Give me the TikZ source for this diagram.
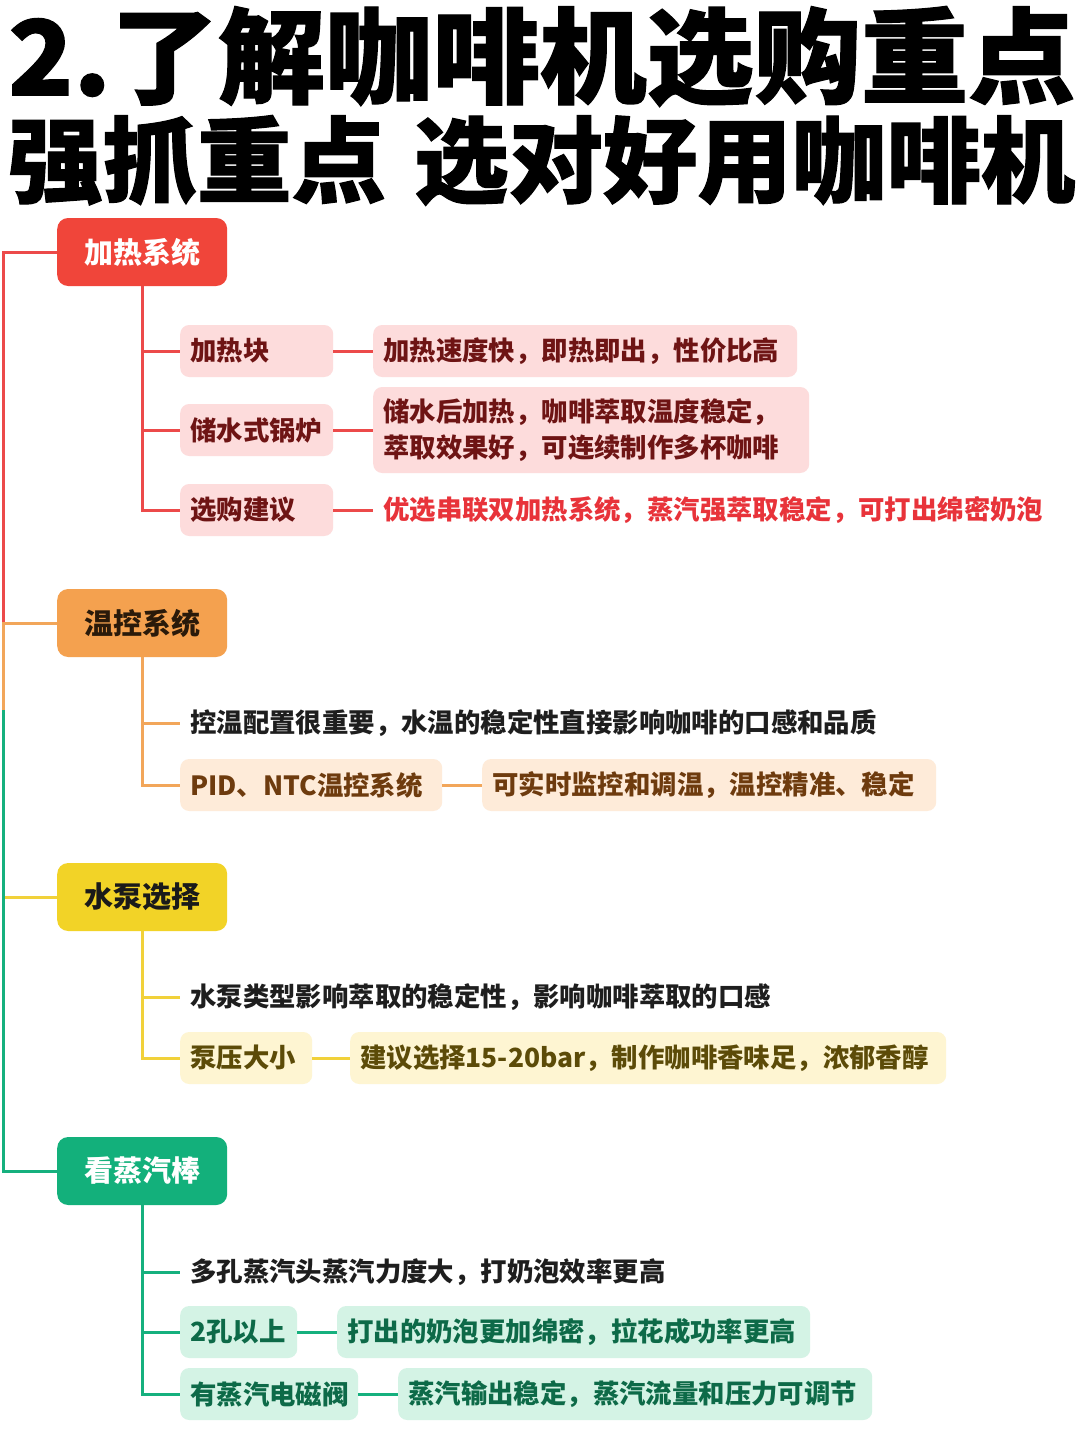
\documentclass[tikz,border=0pt]{standalone}
\usepackage{fontspec}
\usepackage{graphicx}
\setmainfont{Noto Sans CJK SC}
\newfontfamily\titlefont{Noto Sans CJK SC}[BoldFeatures={FakeBold=1.2}]
\definecolor{rMain}{HTML}{F0453A}
\definecolor{rSub}{HTML}{FDDCDC}
\definecolor{rTxt}{HTML}{6E1414}
\definecolor{rRed}{HTML}{E8333A}
\definecolor{rLine}{HTML}{EC4A4A}
\definecolor{oMain}{HTML}{F4A14F}
\definecolor{oSub}{HTML}{FEEBD9}
\definecolor{oTxt}{HTML}{6E3B0E}
\definecolor{oTxtMain}{HTML}{2A1A0A}
\definecolor{oLine}{HTML}{F2A65A}
\definecolor{yMain}{HTML}{F2D327}
\definecolor{ySub}{HTML}{FEF5D2}
\definecolor{yTxt}{HTML}{5C4B08}
\definecolor{yTxtMain}{HTML}{1A1A1A}
\definecolor{yLine}{HTML}{F1D13A}
\definecolor{gMain}{HTML}{13B07B}
\definecolor{gSub}{HTML}{D4F3E5}
\definecolor{gTxt}{HTML}{0D6A48}
\definecolor{gLine}{HTML}{16B07E}
\definecolor{plainTxt}{HTML}{1E1E1E}
\begin{document}
\begin{tikzpicture}[x=1pt,y=-1pt,
  mainbox/.style={rounded corners=11pt, minimum width=170pt, minimum height=68pt, inner sep=0pt, anchor=west, font=\bfseries\fontsize{29}{29}\selectfont},
  subbox/.style={rounded corners=9pt, minimum height=52pt, inner xsep=10pt, inner ysep=0pt, anchor=west, align=left, font=\bfseries\fontsize{26.4}{36}\selectfont},
  plaintext/.style={anchor=west, inner xsep=10pt, inner ysep=0pt, font=\bfseries\fontsize{26.4}{36}\selectfont},
  rl/.style={draw=rLine, line width=3pt},
  ol/.style={draw=oLine, line width=3pt},
  yl/.style={draw=yLine, line width=3pt},
  gl/.style={draw=gLine, line width=3pt}]
\useasboundingbox (0,0) rectangle (1080,1442);
\fill[white] (0,0) rectangle (1080,1442);

% title
\node[anchor=north west, inner sep=0pt] (t1) at (8,6) {\scalebox{1}[0.97]{\resizebox{1067pt}{!}{\titlefont\bfseries\fontsize{100}{100}\selectfont 2.了解咖啡机选购重点}}};
\node[anchor=north west, inner sep=0pt] (t2) at (8,115) {\scalebox{1}[0.99]{\resizebox{1067pt}{!}{\titlefont\bfseries\fontsize{100}{100}\selectfont 强抓重点\hspace{0.3em}选对好用咖啡机}}};

% trunk coordinates
\coordinate (tr1) at (3,252);
\coordinate (tr2) at (3,623);
\coordinate (tr3) at (3,710);
\coordinate (tr4) at (3,897);
\coordinate (tr5) at (3,1171);

% ---------- red ----------
\node[mainbox, fill=rMain, text=white] (h) at (57,252) {加热系统};
\node[subbox, fill=rSub, text=rTxt, text width=133pt] (h1) at (180,351) {加热块};
\node[subbox, fill=rSub, text=rTxt, text width=404pt] (h1d) at (373,351) {加热速度快，即热即出，性价比高};
\node[subbox, fill=rSub, text=rTxt, text width=133pt] (h2) at (180,430) {储水式锅炉};
\node[subbox, fill=rSub, text=rTxt, text width=416pt, minimum height=86pt] (h2d) at (373,430) {储水后加热，咖啡萃取温度稳定，\\萃取效果好，可连续制作多杯咖啡};
\node[subbox, fill=rSub, text=rTxt, text width=133pt] (h3) at (180,510) {选购建议};
\node[plaintext, text=rRed] (h3d) at (373,510) {优选串联双加热系统，蒸汽强萃取稳定，可打出绵密奶泡};
\draw[rl] (h.west) -- (tr1) -- (tr2);
\draw[rl] (h.south) |- (h1.west);
\draw[rl] (h.south) |- (h2.west);
\draw[rl] (h.south) |- (h3.west);
\draw[rl] (h1) -- (h1d);
\draw[rl] (h2) -- (h2d);
\draw[rl] (h3) -- (h3d);

% ---------- orange ----------
\node[mainbox, fill=oMain, text=oTxtMain] (o) at (57,623) {温控系统};
\node[plaintext, text=plainTxt] (o1) at (180,723) {控温配置很重要，水温的稳定性直接影响咖啡的口感和品质};
\node[subbox, fill=oSub, text=oTxt, text width=242pt] (o2) at (180,785) {PID、NTC温控系统};
\node[subbox, fill=oSub, text=oTxt, text width=434pt] (o2d) at (482,785) {可实时监控和调温，温控精准、稳定};
\draw[ol] (o.west) -- (tr2) -- (tr3);
\draw[ol] (o.south) |- (o1.west);
\draw[ol] (o.south) |- (o2.west);
\draw[ol] (o2) -- (o2d);

% ---------- yellow ----------
\node[mainbox, fill=yMain, text=yTxtMain] (y) at (57,897) {水泵选择};
\node[plaintext, text=plainTxt] (y1) at (180,997) {水泵类型影响萃取的稳定性，影响咖啡萃取的口感};
\node[subbox, fill=ySub, text=yTxt, text width=112pt] (y2) at (180,1058) {泵压大小};
\node[subbox, fill=ySub, text=yTxt, text width=576pt] (y2d) at (350,1058) {建议选择15-20bar，制作咖啡香味足，浓郁香醇};
\draw[yl] (y.west) -- (tr4);
\draw[yl] (y.south) |- (y1.west);
\draw[yl] (y.south) |- (y2.west);
\draw[yl] (y2) -- (y2d);

% ---------- green ----------
\node[mainbox, fill=gMain, text=white] (g) at (57,1171) {看蒸汽棒};
\node[plaintext, text=plainTxt] (g1) at (180,1272) {多孔蒸汽头蒸汽力度大，打奶泡效率更高};
\node[subbox, fill=gSub, text=gTxt, text width=97pt] (g2) at (180,1332) {2孔以上};
\node[subbox, fill=gSub, text=gTxt, text width=453pt] (g2d) at (337,1332) {打出的奶泡更加绵密，拉花成功率更高};
\node[subbox, fill=gSub, text=gTxt, text width=158pt] (g3) at (180,1394) {有蒸汽电磁阀};
\node[subbox, fill=gSub, text=gTxt, text width=454pt] (g3d) at (398,1394) {蒸汽输出稳定，蒸汽流量和压力可调节};
\draw[gl] (g.west) -- (tr5) -- (tr3);
\draw[gl] (g.south) |- (g1.west);
\draw[gl] (g.south) |- (g2.west);
\draw[gl] (g.south) |- (g3.west);
\draw[gl] (g2) -- (g2d);
\draw[gl] (g3) -- (g3d);
\end{tikzpicture}
\end{document}
